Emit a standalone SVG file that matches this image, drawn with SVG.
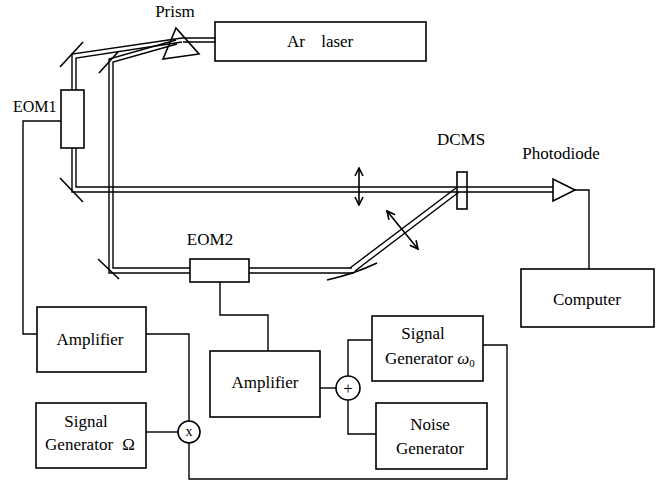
<svg xmlns="http://www.w3.org/2000/svg" width="662" height="487" viewBox="0 0 662 487" style="font-family:'Liberation Serif',serif">
<defs>
<marker id="ah" viewBox="0 0 10 10" refX="9" refY="5" markerWidth="10" markerHeight="10" markerUnits="userSpaceOnUse" orient="auto-start-reverse">
<path d="M1,1 L9,5 L1,9" fill="none" stroke="#000" stroke-width="1.6"/>
</marker>
</defs>
<rect width="662" height="487" fill="#fff"/>

<g id="connectors" fill="none" stroke="#000" stroke-width="1.4">
<path d="M216,38 H182 M216,42 H183"/>
<path d="M182,38 L72,54 V90 M72,148 V192 H553"/>
<path d="M182,42 L76,58 V90 M76,148 V187 H553"/>
<path d="M176,40 L109,59 V273 H190"/>
<path d="M177,44 L113,62 V268 H190"/>
<path d="M249,268 H352 M249,273 H354"/>
<path d="M350,268 L456,188 M355,271 L459,192"/>
<path d="M61,121 H23 V334 H37"/>
<path d="M146,334 H189 V421"/>
<path d="M146,432 H178"/>
<path d="M189,443 V479 H507 V345 H483"/>
<path d="M220,282 V315 H268 V351"/>
<path d="M320,388 H336"/>
<path d="M348,376 V340 H372"/>
<path d="M348,400 V434 H376"/>
<path d="M575,190 H589 V269"/>
</g>

<g id="optics" fill="none" stroke="#000" stroke-width="1.6">
<g id="prism"><polygon points="176,28 163,59 199,54"/></g>
<g id="mirrors">
<line x1="60" y1="67" x2="83" y2="42"/>
<line x1="99" y1="73" x2="118" y2="52"/>
<line x1="60" y1="178" x2="83" y2="202"/>
<line x1="98" y1="259" x2="119" y2="279"/>
<path d="M327,280 Q354,274 377,263"/>
</g>
<g id="lens1"><line x1="359" y1="168" x2="359" y2="205" marker-start="url(#ah)" marker-end="url(#ah)"/></g>
<g id="lens2"><line x1="387" y1="211" x2="418" y2="249" marker-start="url(#ah)" marker-end="url(#ah)"/></g>
<g id="photodiode"><polygon points="553,179 553,201 575,190"/></g>
<g id="ar-laser-box"><rect x="215" y="22" width="211" height="39"/></g>
<g id="eom1-box"><rect x="61" y="90" width="23" height="58"/></g>
<g id="eom2-box"><rect x="190" y="259" width="59" height="23"/></g>
<g id="dcms-box"><rect x="457" y="172" width="10" height="37"/></g>
<g id="computer-box"><rect x="521" y="269" width="133" height="58"/></g>
<g id="amplifier1-box"><rect x="37" y="307" width="109" height="65"/></g>
<g id="amplifier2-box"><rect x="210" y="351" width="110" height="66"/></g>
<g id="siggen-omega-box"><rect x="36" y="403" width="110" height="65"/></g>
<g id="multiplier-circle"><circle cx="189" cy="432" r="11"/></g>
<g id="adder-circle"><circle cx="348" cy="388" r="12"/></g>
<g id="siggen-omega0-box"><rect x="372" y="316" width="111" height="65"/></g>
<g id="noise-gen-box"><rect x="376" y="403" width="111" height="66"/></g>
</g>

<g id="labels" fill="#000" style="font-family:'Liberation Serif',serif;font-size:17px">
<text x="175" y="17" text-anchor="middle" style="font-family:'Liberation Serif',serif">Prism</text>
<text x="287" y="47" word-spacing="12" style="font-family:'Liberation Serif',serif">Ar laser</text>
<text x="13" y="112" style="font-family:'Liberation Serif',serif;font-size:16px">EOM1</text>
<text x="210" y="245" text-anchor="middle" style="font-family:'Liberation Serif',serif">EOM2</text>
<text x="461" y="145" text-anchor="middle" style="font-family:'Liberation Serif',serif">DCMS</text>
<text x="561" y="159" text-anchor="middle" style="font-family:'Liberation Serif',serif">Photodiode</text>
<text x="587" y="305" text-anchor="middle" style="font-family:'Liberation Serif',serif">Computer</text>
<text x="90" y="345" text-anchor="middle" style="font-family:'Liberation Serif',serif">Amplifier</text>
<text x="265" y="388" text-anchor="middle" style="font-family:'Liberation Serif',serif">Amplifier</text>
<text x="86" y="427" text-anchor="middle" style="font-family:'Liberation Serif',serif">Signal</text>
<text x="90" y="450" text-anchor="middle" word-spacing="5" style="font-family:'Liberation Serif',serif">Generator Ω</text>
<text x="189" y="436" text-anchor="middle" style="font-family:'Liberation Serif',serif;font-size:14px">x</text>
<text x="348" y="394" text-anchor="middle" style="font-family:'Liberation Serif',serif">+</text>
<text x="423" y="339" text-anchor="middle" style="font-family:'Liberation Serif',serif">Signal</text>
<text x="385" y="364" style="font-family:'Liberation Serif',serif">Generator <tspan font-style="italic">ω</tspan><tspan font-size="11" dy="3">0</tspan></text>
<text x="430" y="430" text-anchor="middle" style="font-family:'Liberation Serif',serif">Noise</text>
<text x="430" y="454" text-anchor="middle" style="font-family:'Liberation Serif',serif">Generator</text>
</g>
</svg>
